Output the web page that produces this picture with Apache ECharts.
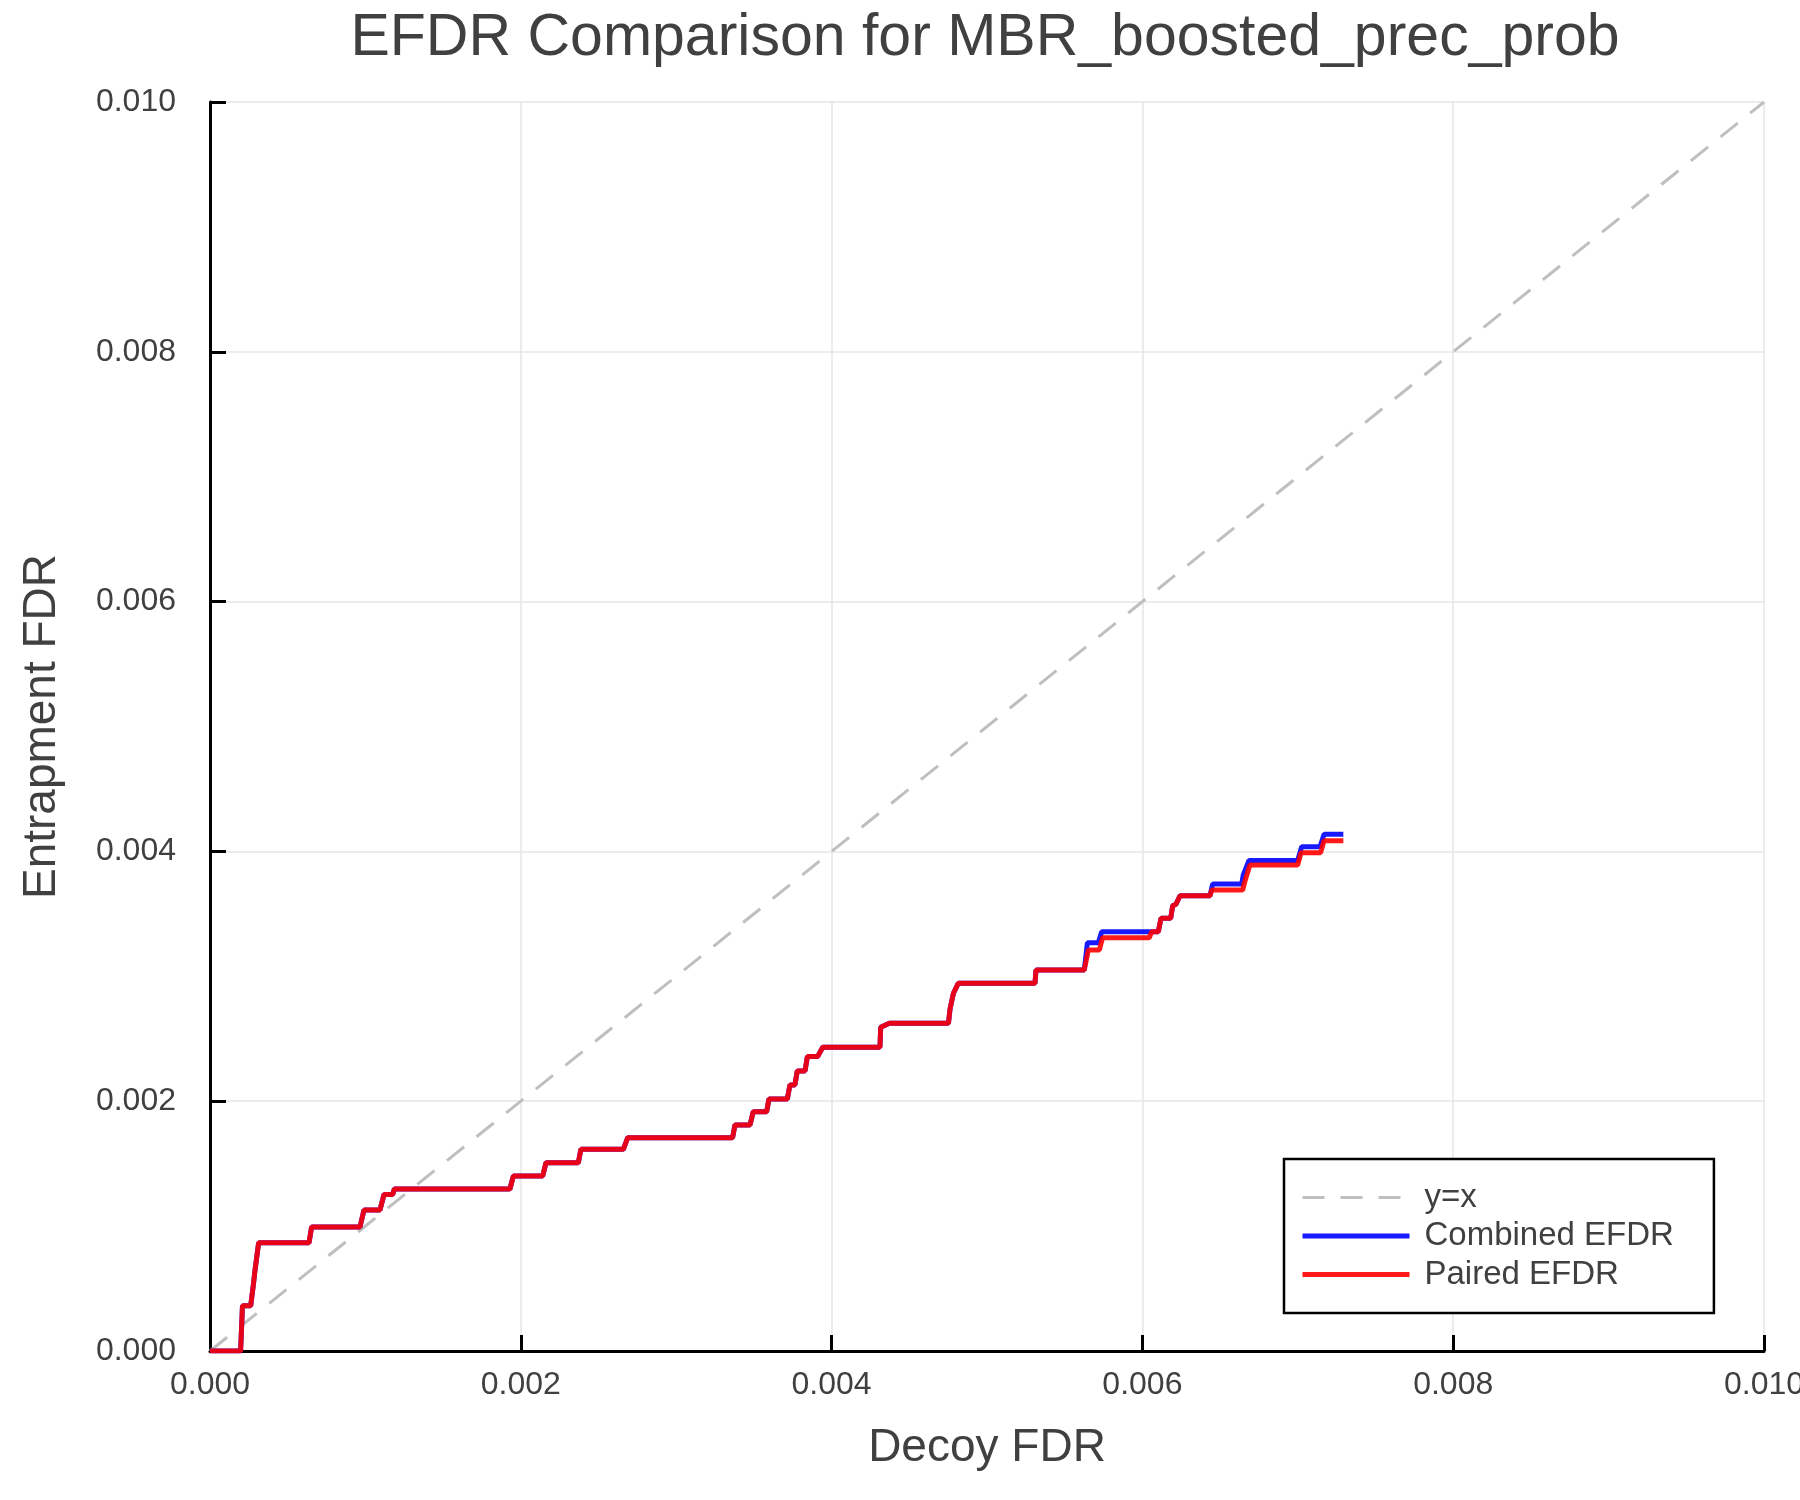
<!DOCTYPE html>
<html>
<head>
<meta charset="utf-8">
<script src="https://cdn.jsdelivr.net/npm/echarts@6/dist/echarts.min.js"></script>
<style>
  html, body { margin: 0; padding: 0; background: #ffffff; overflow: hidden; }
  #chart { width: 1800px; height: 1500px; }
</style>
</head>
<body>
<div id="chart"></div>
<script>
// ---- Data ----
const titleText = 'EFDR Comparison for MBR_boosted_prec_prob';
const xAxisName = 'Decoy FDR';
const yAxisName = 'Entrapment FDR';
const tickValues = [0, 0.002, 0.004, 0.006, 0.008, 0.010];

const diagX = [0, 0.01];
const diagY = [0, 0.01];

const combinedX = [0, 0.000197, 0.000209, 0.000262, 0.000279, 0.00029, 0.000313, 0.000637, 0.000654, 0.000965, 0.000991, 0.001094, 0.00112, 0.001176, 0.001186, 0.00193, 0.001952, 0.002141, 0.002162, 0.00237, 0.002387, 0.00266, 0.002688, 0.003363, 0.003378, 0.003475, 0.003496, 0.003582, 0.003597, 0.003715, 0.003732, 0.003764, 0.003779, 0.003829, 0.003844, 0.00391, 0.003943, 0.004311, 0.004316, 0.004372, 0.004752, 0.004762, 0.004784, 0.004815, 0.005309, 0.005315, 0.005626,
  0.005646, 0.005716, 0.005738, 0.006102, 0.00612, 0.006182, 0.006195, 0.006215, 0.006242, 0.006435, 0.006452, 0.006639, 0.006649, 0.006686, 0.006999, 0.007025, 0.007143, 0.007169, 0.007293];
const combinedY = [0, 0, 0.000363, 0.000363, 0.00053, 0.00065, 0.000867, 0.000867, 0.000993, 0.000993, 0.001129, 0.001129, 0.001254, 0.001254, 0.001297, 0.001297, 0.001401, 0.001401, 0.001508, 0.001508, 0.001615, 0.001615, 0.001708, 0.001708, 0.00181, 0.00181, 0.001916, 0.001916, 0.002018, 0.002018, 0.00213, 0.00213, 0.002242, 0.002242, 0.002357, 0.002357, 0.002432, 0.002432, 0.002592, 0.002624, 0.002624, 0.002736, 0.002864, 0.002944, 0.002944, 0.00305, 0.00305,
  0.003269, 0.003269, 0.003357, 0.003357, 0.003464, 0.003464, 0.003566, 0.003575, 0.003645, 0.003645, 0.003739, 0.003739, 0.003811, 0.003928, 0.003928, 0.004038, 0.004038, 0.004137, 0.004137];

const pairedX = [0, 0.000197, 0.000209, 0.000262, 0.000279, 0.00029, 0.000313, 0.000637, 0.000654, 0.000965, 0.000991, 0.001094, 0.00112, 0.001176, 0.001186, 0.00193, 0.001952, 0.002141, 0.002162, 0.00237, 0.002387, 0.00266, 0.002688, 0.003363, 0.003378, 0.003475, 0.003496, 0.003582, 0.003597, 0.003715, 0.003732, 0.003764, 0.003779, 0.003829, 0.003844, 0.00391, 0.003943, 0.004311, 0.004316, 0.004372, 0.004752, 0.004762, 0.004784, 0.004815, 0.005309, 0.005315, 0.005626,
  0.005652, 0.005723, 0.005744, 0.006044, 0.00606, 0.006102, 0.00612, 0.006182, 0.006195, 0.006215, 0.006242, 0.006435, 0.006446, 0.006645, 0.006665, 0.006692, 0.006999, 0.007021, 0.007147, 0.007169, 0.007293];
const pairedY = [0, 0, 0.000363, 0.000363, 0.00053, 0.00065, 0.000867, 0.000867, 0.000993, 0.000993, 0.001129, 0.001129, 0.001254, 0.001254, 0.001297, 0.001297, 0.001401, 0.001401, 0.001508, 0.001508, 0.001615, 0.001615, 0.001708, 0.001708, 0.00181, 0.00181, 0.001916, 0.001916, 0.002018, 0.002018, 0.00213, 0.00213, 0.002242, 0.002242, 0.002357, 0.002357, 0.002432, 0.002432, 0.002592, 0.002624, 0.002624, 0.002736, 0.002864, 0.002944, 0.002944, 0.00305, 0.00305,
  0.003211, 0.003211, 0.003309, 0.003309, 0.003357, 0.003357, 0.003464, 0.003464, 0.003566, 0.003575, 0.003645, 0.003645, 0.003691, 0.003691, 0.003784, 0.003891, 0.003891, 0.00399, 0.00399, 0.004086, 0.004086];

const seriesNames = ['y=x', 'Combined EFDR', 'Paired EFDR'];

// ---- Chart ----
const zip = (xs, ys) => xs.map((x, i) => [x, ys[i]]);
const FONT = '"Liberation Sans", Arial, Helvetica, sans-serif';
const TXT = '#404040';

const chart = echarts.init(document.getElementById('chart'), null, { renderer: 'canvas', width: 1800, height: 1500 });

function axisCommon(name, nameGap, labelMargin, nameRotate) {
  return {
    type: 'value',
    min: tickValues[0],
    max: tickValues[tickValues.length - 1],
    interval: tickValues[1] - tickValues[0],
    name: name,
    nameLocation: 'middle',
    nameGap: nameGap,
    nameRotate: nameRotate,
    nameTextStyle: { fontSize: 46, color: TXT, fontFamily: FONT },
    axisLine: { show: true, onZero: false, lineStyle: { color: '#000000', width: 3 } },
    axisTick: { show: true, inside: true, length: 16, lineStyle: { color: '#000000', width: 3 } },
    axisLabel: {
      fontSize: 32, color: TXT, fontFamily: FONT, margin: labelMargin,
      formatter: v => v.toFixed(3)
    },
    splitLine: { show: true, lineStyle: { color: '#e6e6e6', width: 1.5 } }
  };
}

const option = {
  animation: false,
  backgroundColor: '#ffffff',
  title: {
    text: titleText,
    left: 980,
    top: 4,
    textAlign: 'center',
    textStyle: { fontSize: 59, fontWeight: 'normal', color: TXT, fontFamily: FONT }
  },
  grid: { left: 210, right: 36, top: 102, bottom: 149, containLabel: false, outerBoundsMode: 'none' },
  xAxis: axisCommon(xAxisName, 74, 18, 0),
  yAxis: axisCommon(yAxisName, 145, 34, 90),
  legend: {
    orient: 'vertical',
    left: 1284,
    top: 1159,
    itemWidth: 107,
    itemHeight: 20,
    itemGap: 5.5,
    padding: [22, 40, 22, 16],
    backgroundColor: '#ffffff',
    borderColor: '#000000',
    borderWidth: 2.5,
    borderRadius: 0,
    itemStyle: { opacity: 0, borderWidth: 0 },
    textStyle: { fontSize: 33, lineHeight: 32, color: TXT, fontFamily: FONT, padding: [0, 0, 0, 10] },
    data: [
      { name: seriesNames[0], lineStyle: { width: 3 } },
      { name: seriesNames[1], lineStyle: { width: 5 } },
      { name: seriesNames[2], lineStyle: { width: 5 } }
    ]
  },
  series: [
    {
      name: seriesNames[0], type: 'line', data: zip(diagX, diagY),
      symbol: 'none', silent: true,
      lineStyle: { color: '#bfbfbf', width: 3, type: [22, 16] },
      itemStyle: { color: '#bfbfbf' },
      z: 1
    },
    {
      name: seriesNames[1], type: 'line', data: zip(combinedX, combinedY),
      symbol: 'none', silent: true,
      lineStyle: { color: '#0000ff', width: 5, opacity: 0.9 },
      itemStyle: { color: '#0000ff' },
      z: 2
    },
    {
      name: seriesNames[2], type: 'line', data: zip(pairedX, pairedY),
      symbol: 'none', silent: true,
      lineStyle: { color: '#ff0000', width: 5, opacity: 0.9 },
      itemStyle: { color: '#ff0000' },
      z: 3
    }
  ]
};
chart.setOption(option);
</script>
</body>
</html>
